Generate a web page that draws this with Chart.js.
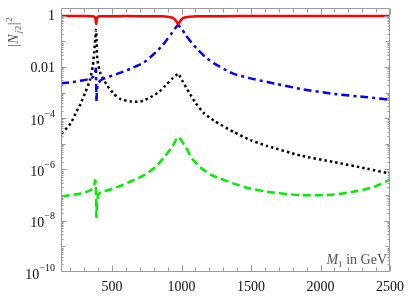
<!DOCTYPE html>
<html><head><meta charset="utf-8">
<script src="https://cdn.jsdelivr.net/npm/chart.js@4/dist/chart.umd.min.js"></script>
<style>html,body{margin:0;padding:0;background:#fff;}canvas{display:block}</style>
</head><body>
<canvas id="c" width="415" height="301"></canvas>
<script>
// ---- data ----
const xRange = [133, 2500];
const yRange = [1e-10, 2];
const xTickMajor = [500, 1000, 1500, 2000, 2500];
const xTickMinor = [200,300,400,600,700,800,900,1100,1200,1300,1400,1600,1700,1800,1900,2100,2200,2300,2400];
const yTickExp = [0, -2, -4, -6, -8, -10];

const redM = [133,300,360,375,381,386,391,397,410,450,600,800,860,900,930,950,965,976,987,1002,1022,1055,1110,1200,1400,2500];
const redV = [0.97,0.965,0.95,0.9,0.75,0.48,0.75,0.9,0.95,0.96,0.965,0.96,0.95,0.92,0.85,0.74,0.58,0.45,0.58,0.74,0.85,0.92,0.95,0.96,0.965,0.97];

const blueM = [133,200,273,346,370,380,384,386,388,391,398,417,441,537,633,729,801,861,897,933,960,976,993,1027,1060,1113,1170,1240,1376,1496,1616,1856,2096,2336,2500];
const blueV = [2.3e-3,2.5e-3,2.9e-3,3.5e-3,4.5e-3,7.1e-3,8.5e-3,2.5e-3,4.3e-4,1.1e-3,2.2e-3,2.95e-3,3.5e-3,5.4e-3,8.5e-3,0.015,0.032,0.068,0.12,0.22,0.35,0.42,0.35,0.19,0.107,0.05,0.025,0.0132,5.4e-3,3.6e-3,2.6e-3,1.4e-3,8.9e-4,6.6e-4,5.2e-4];

const blackM = [137,202,237,273,309,340,362,372,380,385,389,395,417,465,513,561,633,705,777,837,885,933,960,976,1005,1053,1101,1160,1232,1376,1496,1616,1856,2096,2336,2500];
const blackV = [2.5e-5,6.2e-5,1.5e-4,3.6e-4,1.05e-3,2.95e-3,0.0112,0.04,0.14,0.28,0.1,0.018,5.6e-3,1.9e-3,8.9e-4,5.6e-4,4.5e-4,4.5e-4,6.6e-4,1.05e-3,1.9e-3,3.5e-3,4.7e-3,5.5e-3,2.95e-3,1.05e-3,4e-4,1.6e-4,8.1e-5,2.9e-5,1.4e-5,8.3e-6,3.5e-6,1.95e-6,1.07e-6,6.9e-7];

const greenM = [137,202,273,345,370,378,382,385,388,392,400,417,489,561,633,729,813,885,933,976,1029,1077,1137,1209,1268,1376,1496,1616,1856,2096,2264,2384,2500];
const greenV = [9.1e-8,1.0e-7,1.15e-7,1.55e-7,2.2e-7,3.8e-7,3.5e-7,1e-7,1.4e-8,5e-8,1e-7,1.26e-7,1.66e-7,2.3e-7,3.4e-7,5.9e-7,1.26e-6,3.5e-6,7.6e-6,1.86e-5,7.6e-6,2.6e-6,1.2e-6,6.3e-7,4.7e-7,2.8e-7,1.8e-7,1.35e-7,1e-7,1.05e-7,1.45e-7,2.1e-7,4.1e-7];

const pts = (m, v) => m.map((x, i) => ({x: x, y: v[i]}));

const SERIF = '"Liberation Serif", "DejaVu Serif", serif';

const framePlugin = {
  id: 'frame',
  afterDraw(chart) {
    const ctx = chart.ctx, a = chart.chartArea;
    const xs = chart.scales.x, ys = chart.scales.y;
    ctx.save();
    ctx.strokeStyle = '#9a9a9a';
    ctx.lineWidth = 1;
    const L = Math.round(a.left) + 0.5, R = Math.round(a.right) - 0.5;
    const T = Math.round(a.top) + 0.5, B = Math.round(a.bottom) - 0.5;
    ctx.beginPath();
    ctx.rect(L, T, R - L, B - T);
    ctx.stroke();
    ctx.beginPath();
    // x ticks (bottom + top, inward)
    const xt = (v, len) => {
      const p = Math.round(xs.getPixelForValue(v)) + 0.5;
      ctx.moveTo(p, B); ctx.lineTo(p, B - len);
      ctx.moveTo(p, T); ctx.lineTo(p, T + len);
    };
    xTickMajor.forEach(v => xt(v, 6));
    xTickMinor.forEach(v => xt(v, 4));
    // y ticks (left + right, inward)
    const yt = (v, len) => {
      const p = Math.round(ys.getPixelForValue(v)) + 0.5;
      if (p < T - 0.1 || p > B + 0.1) return;
      ctx.moveTo(L, p); ctx.lineTo(L + len, p);
      ctx.moveTo(R, p); ctx.lineTo(R - len, p);
    };
    for (let e = -10; e <= 0; e++) {
      yt(Math.pow(10, e), (e % 2 === 0) ? 5 : 4);
      if (e < 0) for (let k = 2; k <= 9; k++) yt(k * Math.pow(10, e), 2);
    }
    ctx.stroke();

    // x tick labels
    ctx.fillStyle = '#111';
    ctx.font = '14px ' + SERIF;
    ctx.textAlign = 'center';
    ctx.textBaseline = 'middle';
    xTickMajor.forEach(v => ctx.fillText(String(v), xs.getPixelForValue(v), 287));

    // y tick labels
    const rightEdge = 55;
    yTickExp.forEach(e => {
      const py = ys.getPixelForValue(Math.pow(10, e));
      ctx.textAlign = 'left';
      ctx.textBaseline = 'middle';
      if (e === 0 || e === -2) {
        const s = e === 0 ? '1' : '0.01';
        ctx.font = '14px ' + SERIF;
        const w = ctx.measureText(s).width;
        ctx.fillText(s, rightEdge - w, py + 1);
      } else {
        const sup = '\u2212' + String(-e);
        ctx.font = '10px ' + SERIF;
        const ws = ctx.measureText(sup).width;
        ctx.font = '14px ' + SERIF;
        const wb = ctx.measureText('10').width;
        const x0 = rightEdge - ws - wb;
        ctx.fillText('10', x0, py + 3);
        ctx.font = '10px ' + SERIF;
        ctx.fillText(sup, x0 + wb, py - 4);
      }
    });

    // x axis label (inside plot, bottom right)
    ctx.fillStyle = '#555';
    ctx.textBaseline = 'alphabetic';
    ctx.textAlign = 'left';
    const parts = [
      {t: 'M', f: 'italic 14px ' + SERIF, dy: 0},
      {t: '1', f: '9px ' + SERIF, dy: 3},
      {t: ' in GeV', f: '14px ' + SERIF, dy: 0}
    ];
    let tw = 0;
    parts.forEach(p => { ctx.font = p.f; p.w = ctx.measureText(p.t).width; tw += p.w; });
    let cx = 387 - tw;
    parts.forEach(p => { ctx.font = p.f; ctx.fillText(p.t, cx, 264 + p.dy); cx += p.w; });

    // y axis label (rotated)
    ctx.save();
    ctx.translate(18, 47);
    ctx.rotate(-Math.PI / 2);
    const yparts = [
      {t: '|', f: '14px ' + SERIF, dy: 0},
      {t: 'N', f: 'italic 14px ' + SERIF, dy: 0},
      {t: 'j', f: 'italic 9px ' + SERIF, dy: 3},
      {t: '2', f: '9px ' + SERIF, dy: 3},
      {t: '|', f: '14px ' + SERIF, dy: 0},
      {t: '2', f: '9px ' + SERIF, dy: -6}
    ];
    let yx = 0;
    yparts.forEach(p => { ctx.font = p.f; ctx.fillText(p.t, yx, p.dy); yx += ctx.measureText(p.t).width + (p.t === 'N' ? 1 : 0.5); });
    ctx.restore();
    ctx.restore();
  }
};

new Chart(document.getElementById('c'), {
  type: 'line',
  data: {
    datasets: [
      {data: pts(redM, redV), borderColor: '#ff0000', borderWidth: 2.5, pointRadius: 0, tension: 0.2, fill: false},
      {data: pts(blueM, blueV), borderColor: '#0000ff', borderWidth: 2.5, borderDash: [8, 4, 3, 4], pointRadius: 0, tension: 0.2, fill: false},
      {data: pts(blackM, blackV), borderColor: '#000000', borderWidth: 2.5, borderDash: [2.5, 3], pointRadius: 0, tension: 0.2, fill: false},
      {data: pts(greenM, greenV), borderColor: '#00ee00', borderWidth: 2.5, borderDash: [8, 4], pointRadius: 0, tension: 0.2, fill: false}
    ]
  },
  options: {
    responsive: false,
    animation: false,
    parsing: true,
    layout: {padding: {left: 61, top: 8, right: 25, bottom: 29}},
    plugins: {legend: {display: false}, tooltip: {enabled: false}},
    scales: {
      x: {type: 'linear', min: xRange[0], max: xRange[1], display: false},
      y: {type: 'logarithmic', min: yRange[0], max: yRange[1], display: false}
    }
  },
  plugins: [framePlugin]
});
</script>
</body></html>
